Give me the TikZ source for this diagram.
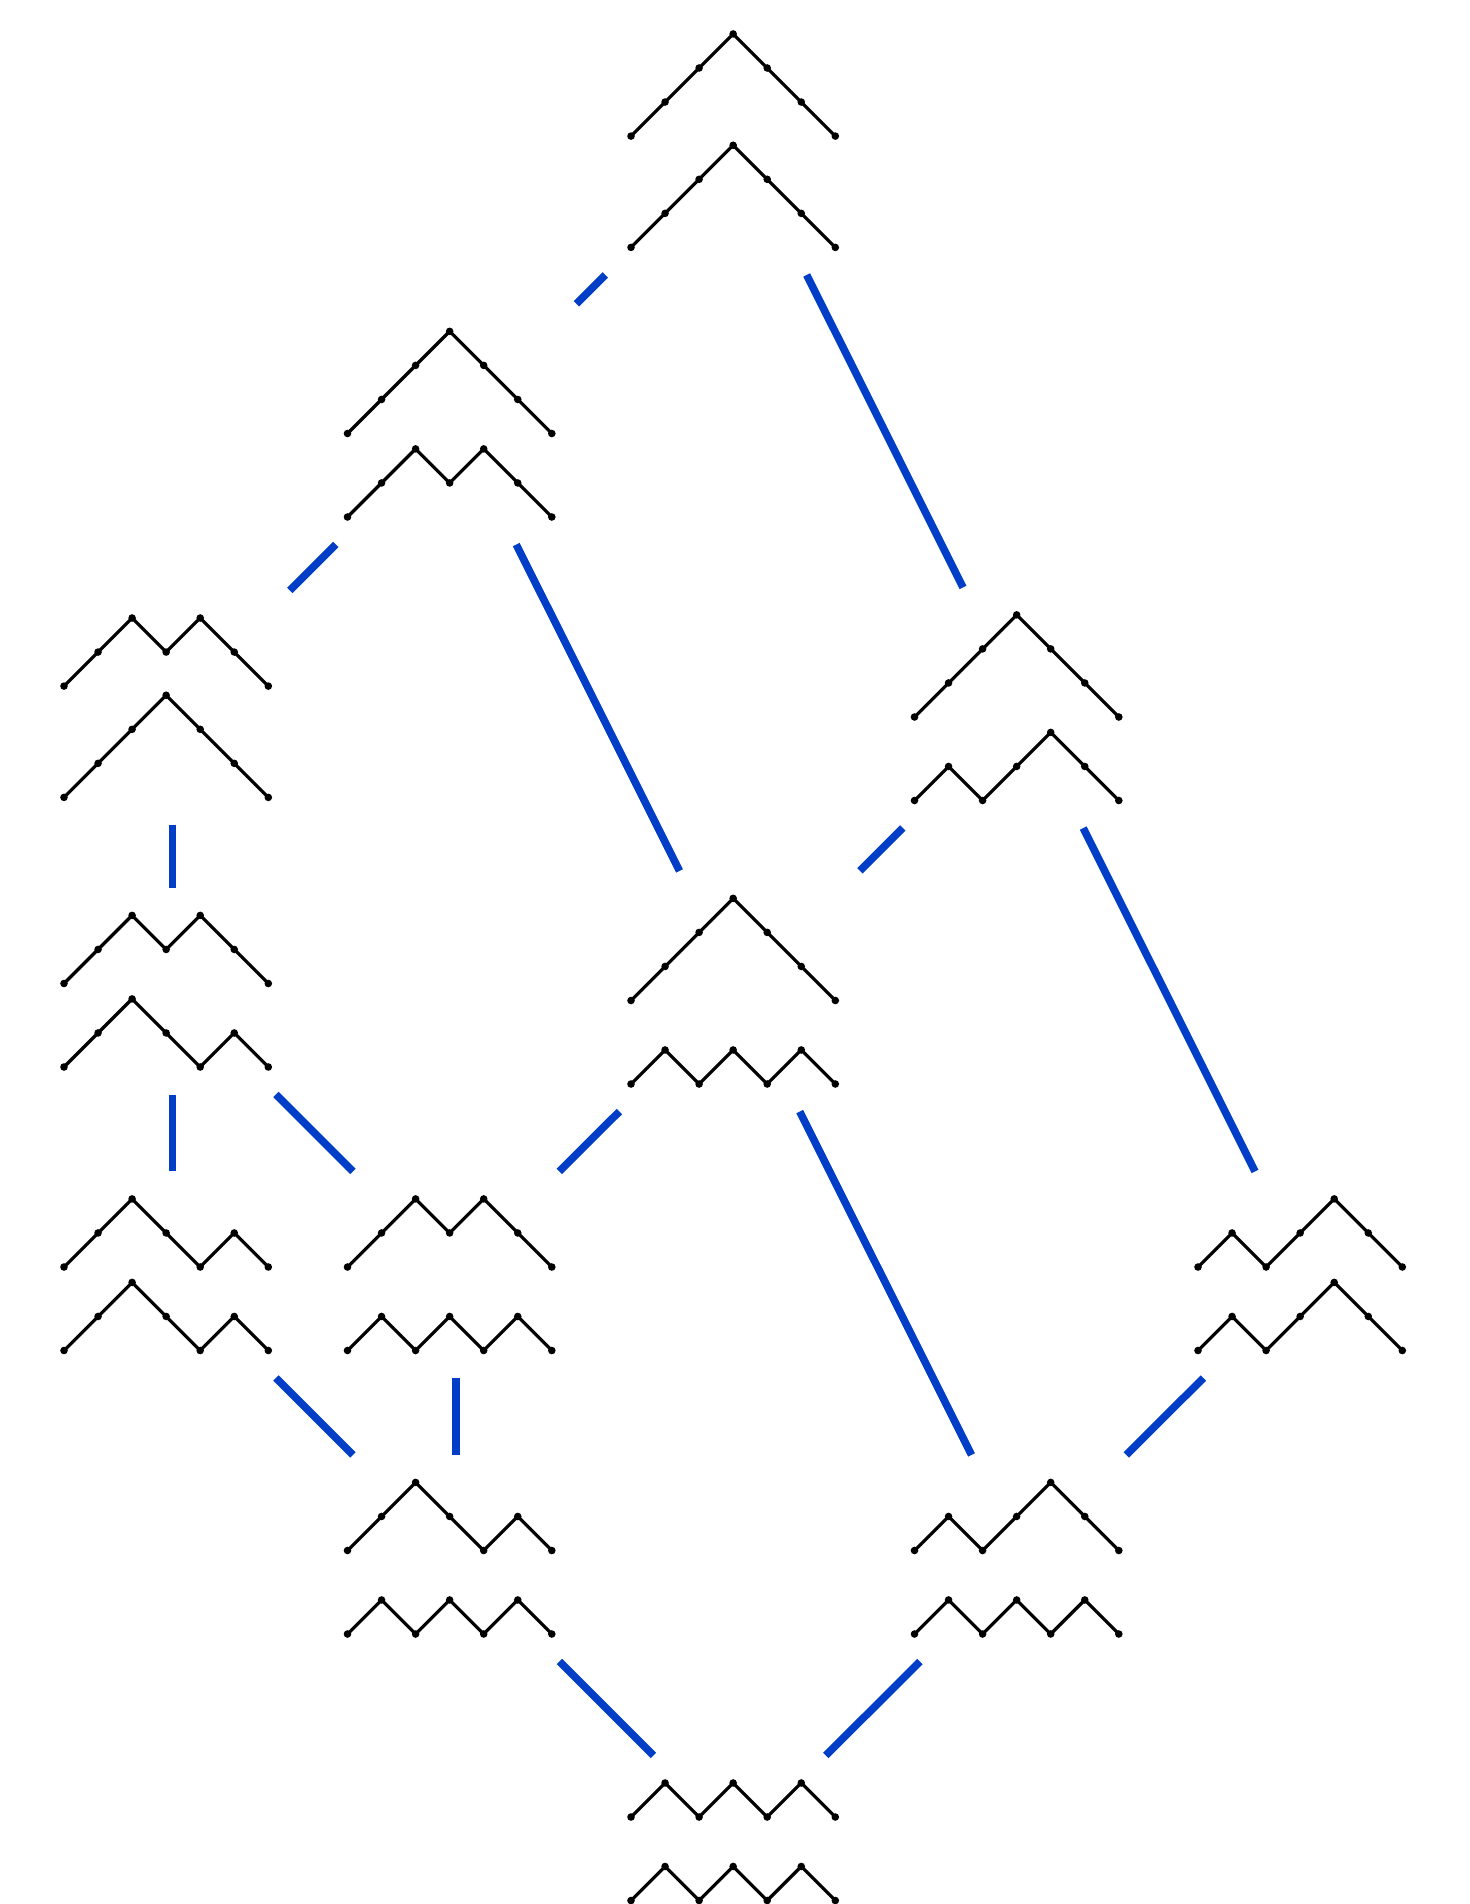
\documentclass[tikz,border=0pt]{standalone}
\definecolor{edgeblue}{RGB}{0,62,200}
\tikzset{
  dyckline/.style={line width=1.6pt, black, line join=round},
  dot/.style={circle, fill=black, draw=none, inner sep=0pt, minimum size=3.8pt},
  pairbox/.style={rectangle, draw=none, inner sep=0pt, outer sep=0pt, minimum width=150pt},
  edge/.style={line width=3.8pt, edgeblue}
}
\newcommand\dyck[3]{%
  \draw[dyckline] (#1,#2) node[dot]{} \foreach \d in {#3}{ -- ++(34.05,{34.05*(0-\d)}) node[dot]{} };
}
\begin{document}
\begin{tikzpicture}[x=0.5pt,y=-0.5pt]
\useasboundingbox (0,0) rectangle (1470,1904);
% invisible boxes, one per pair
\node[pairbox, minimum height=134.23pt] (N1) at (739.65,140.7) {};
\node[pairbox, minimum height=120.33pt] (N2) at (456.15,424.2) {};
\node[pairbox, minimum height=117.2pt]  (N3) at (172.65,707.7) {};
\node[pairbox, minimum height=120.33pt] (N4) at (1023.15,707.7) {};
\node[pairbox, minimum height=103.3pt]  (N5) at (172.65,991.2) {};
\node[pairbox, minimum height=120.33pt] (N6) at (739.65,991.2) {};
\node[pairbox, minimum height=103.3pt]  (N7) at (172.65,1274.7) {};
\node[pairbox, minimum height=103.3pt]  (N8) at (456.15,1274.7) {};
\node[pairbox, minimum height=103.3pt]  (N9) at (1306.65,1274.7) {};
\node[pairbox, minimum height=103.3pt]  (N10) at (456.15,1558.2) {};
\node[pairbox, minimum height=103.3pt]  (N11) at (1023.15,1558.2) {};
\node[pairbox, minimum height=86.28pt]  (N12) at (739.65,1841.7) {};
% Dyck paths
\dyck{631}{136.1}{1,1,1,-1,-1,-1}
\dyck{631}{247.4}{1,1,1,-1,-1,-1}
\dyck{347.5}{433.5}{1,1,1,-1,-1,-1}
\dyck{347.5}{517}{1,1,-1,1,-1,-1}
\dyck{64}{686.1}{1,1,-1,1,-1,-1}
\dyck{64}{797.4}{1,1,1,-1,-1,-1}
\dyck{914.5}{717}{1,1,1,-1,-1,-1}
\dyck{914.5}{800.5}{1,-1,1,1,-1,-1}
\dyck{64}{983.5}{1,1,-1,1,-1,-1}
\dyck{64}{1067}{1,1,-1,-1,1,-1}
\dyck{631}{1000.5}{1,1,1,-1,-1,-1}
\dyck{631}{1084}{1,-1,1,-1,1,-1}
\dyck{64}{1267}{1,1,-1,-1,1,-1}
\dyck{64}{1350.5}{1,1,-1,-1,1,-1}
\dyck{347.5}{1267}{1,1,-1,1,-1,-1}
\dyck{347.5}{1350.5}{1,-1,1,-1,1,-1}
\dyck{1198}{1267}{1,-1,1,1,-1,-1}
\dyck{1198}{1350.5}{1,-1,1,1,-1,-1}
\dyck{347.5}{1550.5}{1,1,-1,-1,1,-1}
\dyck{347.5}{1634}{1,-1,1,-1,1,-1}
\dyck{914.5}{1550.5}{1,-1,1,1,-1,-1}
\dyck{914.5}{1634}{1,-1,1,-1,1,-1}
\dyck{631}{1817}{1,-1,1,-1,1,-1}
\dyck{631}{1900.5}{1,-1,1,-1,1,-1}
% edges
\draw[edge] (N1) -- (N2);
\draw[edge] (N1) -- (N4);
\draw[edge] (N2) -- (N3);
\draw[edge] (N2) -- (N6);
\draw[edge] (N3) -- (N5);
\draw[edge] (N4) -- (N6);
\draw[edge] (N4) -- (N9);
\draw[edge] (N5) -- (N7);
\draw[edge] (N5) -- (N8);
\draw[edge] (N6) -- (N8);
\draw[edge] (N6) -- (N11);
\draw[edge] (N7) -- (N10);
\draw[edge] (N8) -- (N10);
\draw[edge] (N9) -- (N11);
\draw[edge] (N10) -- (N12);
\draw[edge] (N11) -- (N12);
\end{tikzpicture}
\end{document}
